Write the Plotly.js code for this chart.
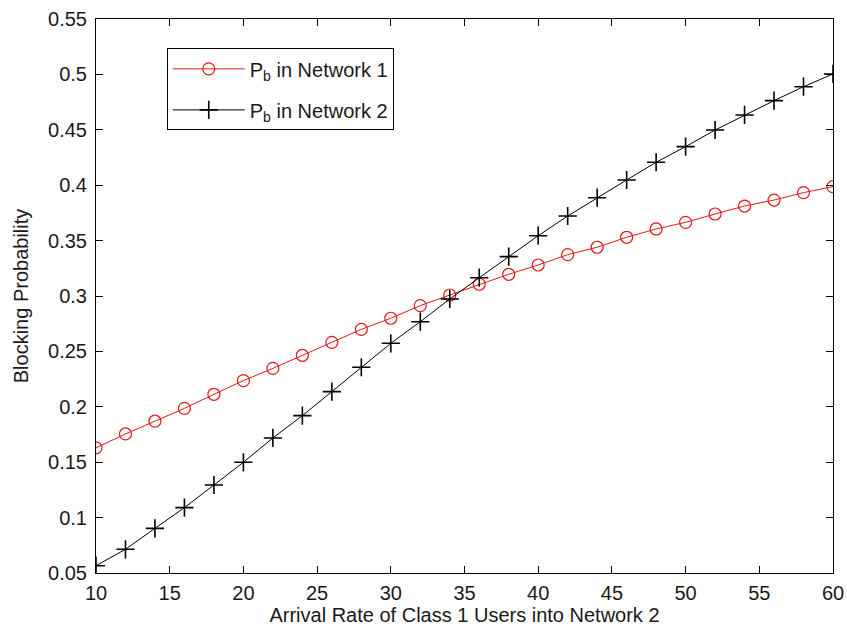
<!DOCTYPE html>
<html>
<head>
<meta charset="utf-8">
<script src="https://cdn.plot.ly/plotly-3.0.1.min.js"></script>
<style>html,body{margin:0;padding:0;background:#fff;}#chart{width:847px;height:632px;}</style>
</head>
<body>
<div id="chart"></div>
<script>
const arrivalRate = [10,12,14,16,18,20,22,24,26,28,30,32,34,36,38,40,42,44,46,48,50,52,54,56,58,60];
const pbNetwork1 = [0.163,0.1755,0.187,0.1986,0.2113,0.2236,0.2347,0.2465,0.2582,0.2699,0.2799,0.2913,0.3009,0.3106,0.3196,0.328,0.3373,0.344,0.353,0.3605,0.3665,0.374,0.3812,0.3866,0.3933,0.3987];
const pbNetwork2 = [0.0566,0.0714,0.0903,0.109,0.1294,0.1499,0.1719,0.192,0.2137,0.2357,0.2573,0.2768,0.2973,0.3165,0.3355,0.3544,0.3722,0.3887,0.4047,0.4207,0.4348,0.4498,0.4634,0.4763,0.4889,0.5004];
const xTickVals = [10,15,20,25,30,35,40,45,50,55,60];
const xTickText = ["10","15","20","25","30","35","40","45","50","55","60"];
const yTickVals = [0.05,0.1,0.15,0.2,0.25,0.3,0.35,0.4,0.45,0.5,0.55];
const yTickText = ["0.05","0.1","0.15","0.2","0.25","0.3","0.35","0.4","0.45","0.5","0.55"];
const seriesNames = ["P<sub>b</sub> in Network 1","P<sub>b</sub> in Network 2"];

const font = {family: "Liberation Sans, Arial, sans-serif", size: 20, color: "#1a1a1a"};

const traces = [
  {x: arrivalRate, y: pbNetwork1, name: seriesNames[0], legendgroup: "n1", mode: "lines+markers", type: "scatter",
   line: {color: "#e01818", width: 1},
   marker: {symbol: "circle-open", size: 12, color: "#e01818", line: {width: 1.2, color: "#e01818"}}},
  {x: arrivalRate, y: pbNetwork2, name: seriesNames[1], legendgroup: "n2", mode: "lines+markers", type: "scatter",
   line: {color: "#000000", width: 1},
   marker: {symbol: "cross-thin-open", size: 13, color: "#000000", line: {width: 1.6, color: "#000000"}}}
];

const axisCommon = {
  showline: true, linecolor: "#000", linewidth: 1, mirror: "ticks",
  ticks: "inside", ticklen: 7, tickwidth: 1, tickcolor: "#000",
  showgrid: false, zeroline: false, tickfont: font, automargin: false
};

const layout = {
  width: 847, height: 632,
  margin: {l: 96, r: 14, t: 19, b: 59},
  paper_bgcolor: "#fff", plot_bgcolor: "#fff",
  font: font,
  showlegend: true,
  legend: {x: 0.096, y: 0.947, xanchor: "left", yanchor: "top",
           bordercolor: "#000", borderwidth: 1, bgcolor: "#fff",
           font: font, itemwidth: 72, tracegroupgap: 12},
  xaxis: Object.assign({}, axisCommon, {
    range: [10, 60], tickmode: "array", tickvals: xTickVals, ticktext: xTickText,
    ticklabelstandoff: 2,
    title: {text: "Arrival Rate of Class 1 Users into Network 2", font: font, standoff: 4}
  }),
  yaxis: Object.assign({}, axisCommon, {
    range: [0.05, 0.55], tickmode: "array", tickvals: yTickVals, ticktext: yTickText,
    ticklabelstandoff: 4,
    title: {text: "Blocking Probability", font: font, standoff: 14}
  })
};

Plotly.newPlot("chart", traces, layout, {displayModeBar: false, staticPlot: true});
</script>
</body>
</html>
